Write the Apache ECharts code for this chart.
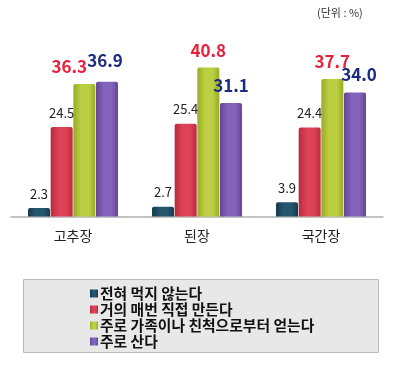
<!DOCTYPE html>
<html><head><meta charset="utf-8">
<script src="https://cdn.jsdelivr.net/npm/echarts@6/dist/echarts.min.js"></script>
<style>html,body{margin:0;padding:0;background:#fff}#c{width:400px;height:367px}</style>
</head><body><div id="c"></div>
<script>
var categories = ['고추장', '된장', '국간장'];
var seriesNames = ['전혀 먹지 않는다', '거의 매번 직접 만든다', '주로 가족이나 친척으로부터 얻는다', '주로 산다'];
var neverEat = [2.3, 2.7, 3.9];
var makeSelf = [24.5, 25.4, 24.4];
var fromFamily = [36.3, 40.8, 37.7];
var buy = [36.9, 31.1, 34.0];
var unitText = '(단위 : %)';

var font = '"Noto Sans CJK KR", "Noto Sans", sans-serif';
function grad(c1, c2) {
  return new echarts.graphic.LinearGradient(0, 0, 1, 0, [
    {offset: 0, color: c2}, {offset: 0.35, color: c1}, {offset: 0.7, color: c1}, {offset: 1, color: c2}
  ]);
}
var colors = ['#1f4a62', '#d83a4e', '#b5c93a', '#7c5ab3'];
var fills = [grad('#25566f', '#173a4e'), grad('#de4257', '#b82a3d'), grad('#bccf42', '#97ab24'), grad('#8463bb', '#634596')];
var fmt = function (p) { return Number(p.value).toFixed(1); };
var smallLabel = {show: true, position: 'top', distance: 8, fontSize: 13, color: '#222', fontFamily: font, formatter: fmt};
var bigLabel = function (col) { return {show: true, position: 'top', distance: 9, fontSize: 17, fontWeight: 'bold', color: col, fontFamily: font, formatter: fmt}; };
var offsetsGreen = [[-15, 0], [0, 0], [0, 0]];
var offsetsPurple = [[-2, -4], [0, 0], [4, 0]];
function items(arr, offs) {
  return arr.map(function (v, i) { return offs ? {value: v, label: {offset: offs[i]}} : v; });
}
var dataSets = [items(neverEat), items(makeSelf), items(fromFamily, offsetsGreen), items(buy, offsetsPurple)];
var labels = [smallLabel, smallLabel, bigLabel('#e8203a'), bigLabel('#1c2b82')];

var chart = echarts.init(document.getElementById('c'));
chart.setOption({
  animation: false,
  textStyle: {fontFamily: font},
  grid: {left: 11, width: 372, top: 34, height: 182.5},
  xAxis: {type: 'category', data: categories,
    axisLine: {lineStyle: {color: '#b0b0b0', width: 1.5}}, axisTick: {show: false},
    axisLabel: {fontSize: 14, color: '#222', margin: 12, fontFamily: font}},
  yAxis: {type: 'value', min: 0, max: 50, show: false, splitLine: {show: false}},
  legend: {orient: 'vertical', left: 85, top: 281, itemWidth: 8, itemHeight: 8, itemGap: 1,
    icon: 'rect', data: seriesNames,
    textStyle: {fontSize: 14.8, fontWeight: 'bold', color: '#111', lineHeight: 15, fontFamily: font, padding: [0, 0, 0, -3]}},
  graphic: [
    {type: 'rect', left: 23, top: 279, shape: {width: 355, height: 73}, style: {fill: '#e8e8e8', stroke: '#b8b8b8', lineWidth: 1}, z: -10},
    {type: 'text', left: 317, top: 7, style: {text: unitText, fontSize: 11, fill: '#333', fontFamily: font}}
  ],
  series: seriesNames.map(function (n, i) {
    return {name: n, type: 'bar', data: dataSets[i], barWidth: 22, barGap: '3%',
      itemStyle: {color: fills[i], borderRadius: [2, 2, 0, 0]}, label: labels[i]};
  }),
  color: colors
});
</script></body></html>
